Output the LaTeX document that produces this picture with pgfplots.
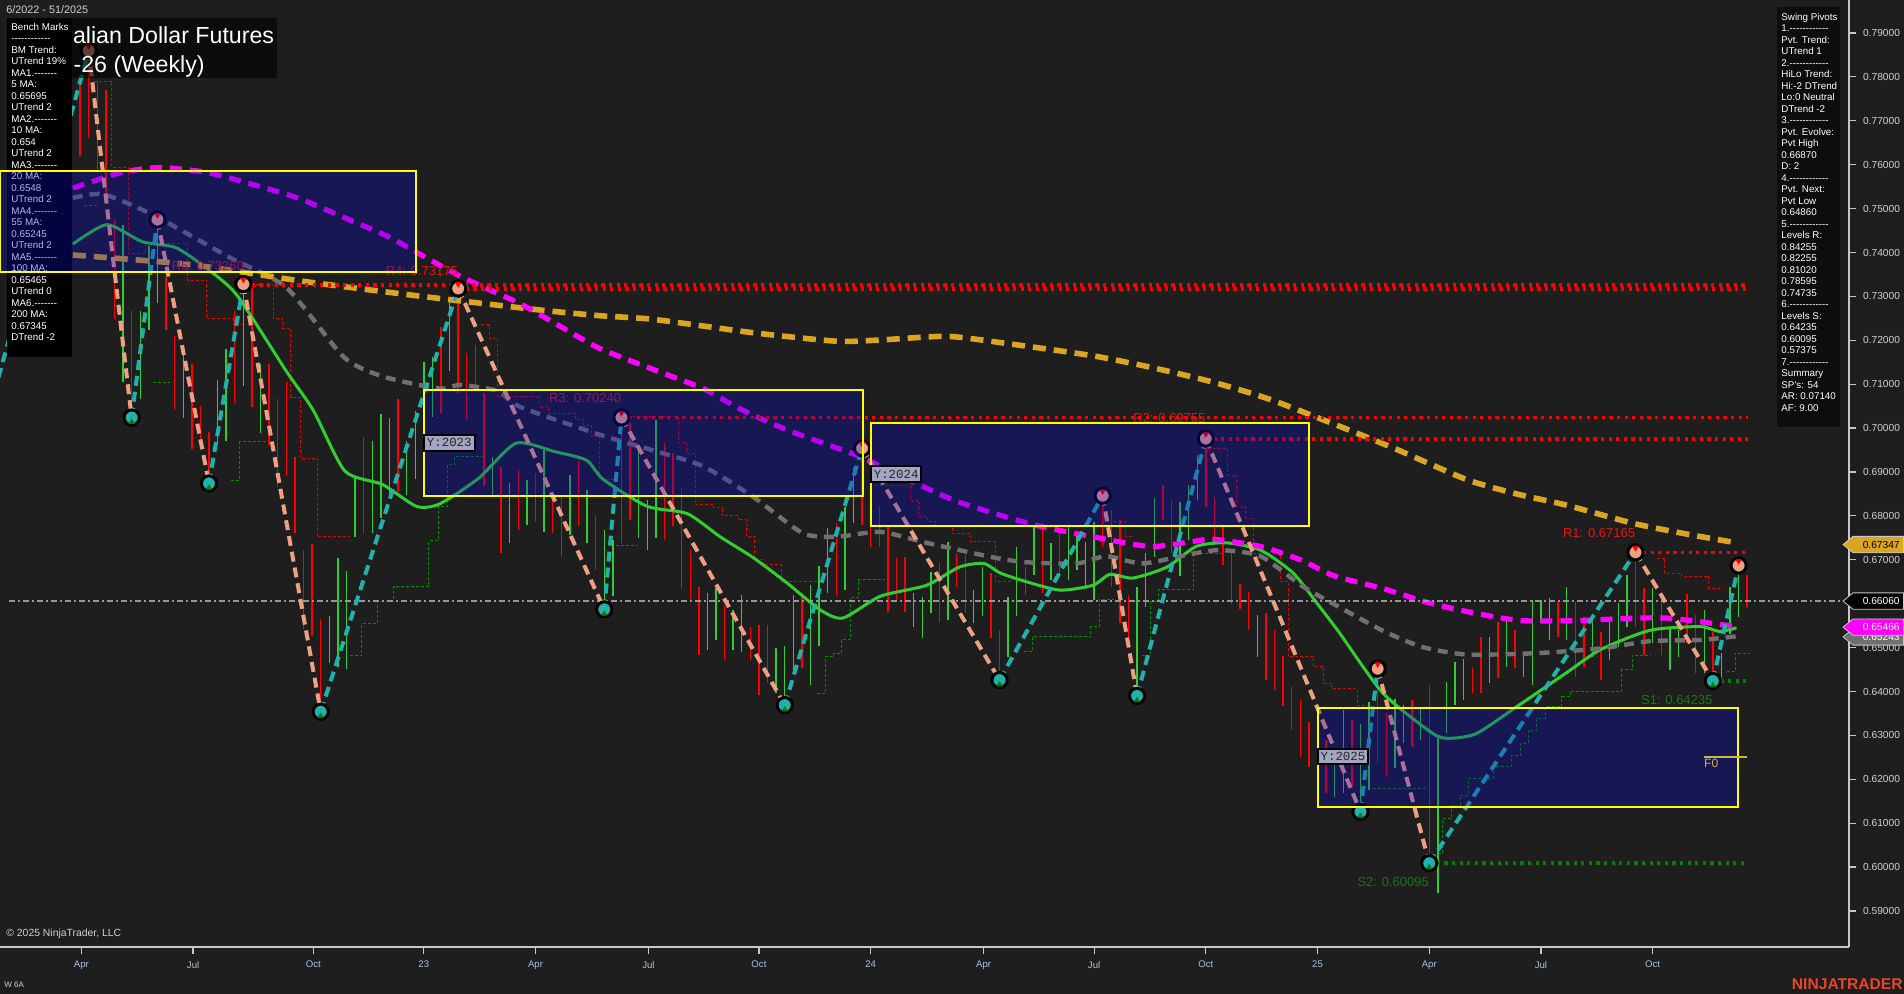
\documentclass[border=0pt]{standalone}
\usepackage{pgfplots}
\pgfplotsset{compat=1.18}
\usepackage{pgfplotstable}
\usepackage{fontspec}
\setmainfont{Liberation Sans}[Ligatures=TeXOff]
\setmonofont{Liberation Mono}
\definecolor{bg}{RGB}{30,30,30}
\definecolor{upg}{RGB}{50,205,50}
\definecolor{dnr}{RGB}{255,0,0}
\definecolor{stepred}{RGB}{225,0,0}
\definecolor{stepgreen}{RGB}{0,140,0}
\definecolor{magma}{RGB}{255,0,255}
\definecolor{goldma}{RGB}{218,165,32}
\definecolor{ma55}{RGB}{112,112,112}
\definecolor{ma20}{RGB}{50,205,50}
\definecolor{salm}{RGB}{240,160,130}
\definecolor{tealz}{RGB}{32,178,170}
\definecolor{navyfill}{RGB}{10,10,210}
\definecolor{yel}{RGB}{255,255,0}
\definecolor{axgray}{RGB}{200,200,200}
\definecolor{ticklab}{RGB}{205,210,215}
\definecolor{xlab}{RGB}{170,195,230}
\definecolor{resred}{RGB}{230,20,20}
\definecolor{supgreen}{RGB}{20,120,20}
\definecolor{supdot}{RGB}{0,128,0}
\definecolor{ninja}{RGB}{230,70,40}
\definecolor{ylabfill}{RGB}{165,165,195}
\definecolor{f0col}{RGB}{200,185,60}
\definecolor{pricegray}{RGB}{150,150,150}
\newcommand{\TL}[2]{([xshift=#1,yshift=#2]rel axis cs:0,1)}
\newcommand{\TR}[2]{([xshift=#1,yshift=#2]rel axis cs:1,1)}
\newcommand{\BL}[2]{([xshift=#1,yshift=#2]rel axis cs:0,0)}
\newcommand{\BR}[2]{([xshift=#1,yshift=#2]rel axis cs:1,0)}
\newcommand{\tagfont}{\fontsize{5.1}{6}\selectfont}
\newcommand{\pricetag}[4]{%
  \filldraw[fill=#2, draw=#4, line width=0.4pt] ([xshift=-3pt]axis cs:165.85,#1) -- ++(5pt,4.1pt) -- ++(25.3pt,0pt) -- ++(0pt,-8.2pt) -- ++(-25.3pt,0pt) -- cycle;
  \node[anchor=east, inner sep=0pt, text=#3, font=\tagfont] at ([xshift=25.5pt]axis cs:165.85,#1) {#1};}

\pgfplotstableread{
w lo hi
-41 0.748 0.772
-35 0.7105 0.7463
-33 0.7066 0.7267
-32 0.7223 0.7415
-31 0.7284 0.7475
-28 0.7023 0.7188
-24 0.6961 0.7110
-23 0.6970 0.7180
-21 0.7097 0.7328
-19 0.6988 0.7145
-11 0.6465 0.6573
-10 0.6456 0.6704
-9 0.6452 0.6674
-8 0.6752 0.6892
-6 0.6761 0.6970
-5 0.6796 0.7031
-4 0.6848 0.7023
-2 0.6848 0.6970
-1 0.6883 0.7040
0 0.6950 0.7150
1 0.7026 0.7163
3 0.7129 0.7292
8 0.6844 0.6935
10 0.6738 0.6874
12 0.6780 0.6882
14 0.6764 0.6950
17 0.6757 0.6893
19 0.6738 0.6859
21 0.6587 0.6768
22 0.6617 0.6746
25 0.6750 0.6960
26 0.6723 0.6837
27 0.6749 0.7019
33 0.6495 0.6624
34 0.6518 0.6635
36 0.6495 0.6586
37 0.6491 0.6620
41 0.6396 0.6499
42 0.6369 0.6503
43 0.6442 0.6620
45 0.6415 0.6643
46 0.6503 0.6685
47 0.6624 0.6772
49 0.6632 0.6821
50 0.6783 0.6912
57 0.6548 0.6624
58 0.6521 0.6616
59 0.6578 0.6673
61 0.6563 0.6741
64 0.6555 0.6631
65 0.6571 0.6684
68 0.6479 0.6616
69 0.6571 0.6730
71 0.6665 0.6779
73 0.6654 0.6738
75 0.6654 0.6776
76 0.6677 0.6764
77 0.6639 0.6741
78 0.6608 0.6787
83 0.6390 0.6639
84 0.6593 0.6715
85 0.6707 0.6840
88 0.6662 0.6832
89 0.6745 0.6870
90 0.6836 0.6939
97 0.6479 0.6574
104 0.6210 0.6330
106 0.6160 0.6259
107 0.6168 0.6358
109 0.6126 0.6327
110 0.6176 0.6377
113 0.6225 0.6384
114 0.6282 0.6369
116 0.6290 0.6362
118 0.5940 0.6293
119 0.6305 0.6422
120 0.6369 0.6468
121 0.6381 0.6475
124 0.6419 0.6525
126 0.6456 0.6563
128 0.6434 0.6483
129 0.6415 0.6608
130 0.6555 0.6608
131 0.6517 0.6612
133 0.6517 0.6639
136 0.6479 0.6563
138 0.6472 0.6563
139 0.6502 0.6601
140 0.6548 0.6665
143 0.6510 0.6635
145 0.6449 0.6544
146 0.6479 0.6540
149 0.6441 0.6586
151 0.6426 0.6488
152 0.6532 0.6639
153 0.6570 0.6687
}\upbars

\pgfplotstableread{
w lo hi
-40 0.762 0.780
-39 0.766 0.786
-38 0.758 0.779
-37 0.752 0.777
-36 0.7249 0.7476
-34 0.7024 0.7267
-30 0.7223 0.7345
-29 0.7044 0.7210
-27 0.6953 0.7145
-26 0.6953 0.7050
-25 0.6874 0.6990
-22 0.7058 0.7267
-20 0.7049 0.7319
-18 0.6961 0.7145
-17 0.6866 0.7066
-16 0.6892 0.7105
-15 0.6761 0.6935
-14 0.6543 0.6722
-13 0.6526 0.6735
-12 0.6354 0.6565
-7 0.6761 0.6979
-3 0.6857 0.7066
2 0.7034 0.7231
4 0.7079 0.7318
5 0.7019 0.7170
6 0.7087 0.7189
7 0.6867 0.7079
9 0.6715 0.6912
11 0.6768 0.6905
13 0.6787 0.6897
15 0.6761 0.6852
16 0.6708 0.6844
18 0.6776 0.6924
20 0.6677 0.6799
23 0.6738 0.7024
24 0.6791 0.7011
28 0.6745 0.6969
29 0.6776 0.6943
30 0.6635 0.6863
31 0.6605 0.6723
32 0.6484 0.6639
35 0.6472 0.6594
38 0.6472 0.6548
39 0.6392 0.6552
40 0.6419 0.6552
44 0.6453 0.6624
48 0.6617 0.6783
51 0.6780 0.6954
52 0.6726 0.6821
53 0.6730 0.6821
54 0.6582 0.6779
55 0.6608 0.6703
56 0.6582 0.6707
60 0.6559 0.6692
62 0.6639 0.6715
63 0.6578 0.6711
66 0.6521 0.6669
67 0.6426 0.6540
70 0.6620 0.6684
72 0.6624 0.6783
74 0.6662 0.6764
79 0.6730 0.6846
80 0.6639 0.6813
81 0.6555 0.6791
82 0.6500 0.6620
86 0.6791 0.6870
87 0.6715 0.6836
91 0.6821 0.6976
92 0.6745 0.6844
93 0.6688 0.6776
94 0.6600 0.6720
95 0.6589 0.6646
96 0.6540 0.6627
98 0.6426 0.6578
99 0.6404 0.6540
100 0.6366 0.6480
101 0.6312 0.6411
102 0.6250 0.6380
103 0.6229 0.6330
105 0.6168 0.6290
108 0.6183 0.6335
111 0.6236 0.6452
112 0.6206 0.6350
115 0.6274 0.6381
117 0.6009 0.6415
122 0.6396 0.6456
123 0.6396 0.6525
125 0.6430 0.6559
127 0.6453 0.6540
132 0.6525 0.6604
134 0.6434 0.6604
135 0.6456 0.6570
137 0.6426 0.6536
141 0.6548 0.6717
142 0.6483 0.6635
144 0.6483 0.6608
147 0.6510 0.6623
148 0.6441 0.6574
150 0.6424 0.6536
154 0.6593 0.6665
}\downbars

\begin{document}
\begin{tikzpicture}
\fill[bg] (0pt,-23.5pt) rectangle (952pt,473.5pt);
\begin{axis}[
  at={(0pt,0pt)}, anchor=south west,
  scale only axis, width=924.5pt, height=473.5pt,
  xmin=-49.32, xmax=165.85, ymin=0.5818, ymax=0.79752,
  clip mode=individual,
  axis x line*=bottom, axis y line*=right,
  axis line style={-, draw=axgray, line width=0.75pt},
  tick align=outside, major tick length=3.5pt,
  tick style={draw=axgray, line width=0.6pt},
  /pgf/number format/assume math mode=true,
  ytick={0.59,0.60,0.61,0.62,0.63,0.64,0.65,0.66,0.67,0.68,0.69,0.70,0.71,0.72,0.73,0.74,0.75,0.76,0.77,0.78,0.79},
  yticklabel={\pgfmathprintnumber[fixed,fixed zerofill,precision=5]{\tick}},
  yticklabel style={font=\fontsize{5.1}{6}\selectfont, text=ticklab},
  xtick={-39.85,-26.85,-12.86,0,13,26.14,39,52,65.14,78,91,104,117,130,143},
  xticklabels={Apr,Jul,Oct,23,Apr,Jul,Oct,24,Apr,Jul,Oct,25,Apr,Jul,Oct},
  xticklabel style={font=\fontsize{4.8}{6}\selectfont, text=xlab},
  unbounded coords=jump,
]
% trailing step lines
\addplot[stepred, line width=0.5pt, dash pattern=on 1.5pt off 1pt, const plot, forget plot] coordinates {
(-38.4,0.7790) (-36.3,0.7594) (-34.4,0.7398) (-32.4,0.7420) (-27.5,0.7337) (-25.3,0.7249) (-22.2,0.7236) (-21.0,0.7328) (-17.5,0.7249) (-16.4,0.7228) (-15.5,0.7070) (-14.4,0.6931) (-12.4,0.6752) (-8.6,0.6752) (-8.6,nan)
(6.7,0.7235) (7.6,0.7205) (8.6,0.7072) (13.5,0.7050) (14.5,0.7033) (17.6,0.7019) (18.6,0.7007) (19.5,0.6981) (20.5,0.6882) (22.1,0.6882) (22.1,nan)
(23.2,0.7026) (29.6,0.6967) (30.6,0.6943) (31.6,0.6825) (33.7,0.6818) (34.7,0.6802) (36.6,0.6791) (37.6,0.6753) (38.5,0.6700) (39.5,0.6689) (41.6,0.6651) (45.9,0.6651) (45.9,nan)
(52.5,0.6870) (56.6,0.6836) (57.6,0.6798) (58.6,0.6787) (59.6,0.6779) (61.5,0.6760) (63.6,0.6741) (66.5,0.6650) (68.5,0.6650) (68.5,nan)
(80.3,0.6787) (81.7,0.6753) (82.6,0.6753) (82.6,nan)
(91.3,0.6954) (93.5,0.6893) (94.6,0.6821) (95.6,0.6795) (96.6,0.6715) (99.7,0.6650) (100.6,0.6479) (103.5,0.6456) (104.7,0.6419) (105.6,0.6407) (108.6,0.6369) (110.0,0.6369) (110.0,nan)
(143.5,0.6704) (144.4,0.6669) (146.4,0.6662) (149.5,0.6635) (151.2,0.6635)
};
\addplot[stepgreen, line width=0.5pt, dash pattern=on 1.5pt off 1pt, const plot, forget plot] coordinates {
(-39.5,0.7507) (-38.0,0.7507) (-38.0,nan)
(-31.5,0.7104) (-29.5,0.7104) (-29.5,nan)
(-22.4,0.6881) (-21.4,0.6969) (-18.1,0.6969) (-18.1,nan)
(-8.6,0.6482) (-7.2,0.6554) (-5.4,0.6604) (-3.5,0.6639) (0.6,0.6744) (1.7,0.6821) (2.7,0.6918) (3.6,0.6935) (6.9,0.6950) (7.5,0.6950) (7.5,nan)
(22.4,0.6732) (24.8,0.6732) (24.8,nan)
(45.7,0.6396) (46.7,0.6480) (47.7,0.6487) (48.6,0.6518) (49.6,0.6613) (50.6,0.6654) (53.7,0.6654) (53.7,nan)
(69.8,0.6491) (70.8,0.6525) (77.6,0.6548) (78.6,0.6609) (80.3,0.6609) (80.3,nan)
(83.6,0.6483) (84.6,0.6605) (85.5,0.6632) (89.6,0.6715) (92.9,0.6715) (92.9,nan)
(110.5,0.6179) (116.9,0.6179) (116.9,nan)
(118.0,0.6032) (118.6,0.6111) (119.6,0.6141) (120.6,0.6164) (121.6,0.6202) (124.5,0.6229) (126.6,0.6255) (127.6,0.6282) (128.5,0.6312) (129.5,0.6339) (130.5,0.6365) (132.4,0.6388) (133.4,0.6400) (139.4,0.6449) (140.6,0.6483) (142.7,0.6483) (142.7,nan)
(151.6,0.6445) (152.6,0.6487) (154.3,0.6487)
};
% weekly bars (high-low)
\addplot[draw=none, no markers, forget plot,
  error bars/.cd, y dir=plus, y explicit, error mark=none,
  error bar style={draw=upg, line width=0.7pt, solid}]
  table[x=w, y=lo, y error plus expr=\thisrow{hi}-\thisrow{lo}] {\upbars};
\addplot[draw=none, no markers, forget plot,
  error bars/.cd, y dir=plus, y explicit, error mark=none,
  error bar style={draw=dnr, line width=0.7pt, solid}]
  table[x=w, y=lo, y error plus expr=\thisrow{hi}-\thisrow{lo}] {\downbars};
% moving averages
\addplot[ma20, line width=1.5pt, smooth, tension=0.4] coordinates {
(-40.84,0.74192) (-36.88,0.74635) (-32.78,0.74247) (-28.83,0.74109) (-25.29,0.73639) (-21.76,0.7303) (-15.97,0.71288) (-12.86,0.70403) (-9.18,0.6902) (-4.80,0.68715) (-0.85,0.68217) (1.84,0.68273) (6.36,0.68854) (10.74,0.69656) (15.26,0.69462) (18.93,0.69269) (20.91,0.68826) (26.00,0.68217) (30.66,0.68051) (34.48,0.67525) (38.29,0.67055) (42.25,0.66475) (46.07,0.65866) (48.75,0.65672) (53.13,0.6617) (58.50,0.66419) (62.31,0.66834) (65.14,0.66917) (67.12,0.66696) (70.09,0.66502) (74.04,0.66309) (77.86,0.66419) (79.84,0.66668) (82.52,0.66585) (86.48,0.66834) (89.87,0.67304) (93.40,0.67387) (97.36,0.67221) (101.17,0.66696) (104.28,0.65921) (106.54,0.6534) (111.63,0.63957) (117.42,0.63044) (119.40,0.62934) (122.51,0.63044) (127.17,0.63652) (132.97,0.64427) (136.92,0.64953) (142.72,0.65395) (148.51,0.65478) (150.77,0.65368) (152.75,0.65451)
};
\addplot[ma55, line width=2.2pt, dash pattern=on 5pt off 3.5pt, smooth, tension=0.4] coordinates {
(-40.84,0.75243) (-37.30,0.75326) (-31.51,0.74856) (-22.61,0.73888) (-15.97,0.73196) (-9.33,0.7162) (-4.80,0.71177) (1.84,0.709) (4.24,0.70983) (8.62,0.70845) (11.16,0.70486) (20.49,0.69849) (26.71,0.6949) (32.50,0.6913) (38.29,0.68439) (44.09,0.67608) (48.04,0.67525) (53.13,0.67636) (58.50,0.67387) (66.27,0.67055) (70.09,0.66945) (76.02,0.66917) (79.41,0.67083) (83.65,0.66917) (89.45,0.67138) (92.69,0.67221) (97.36,0.67083) (102.30,0.66392) (106.54,0.65921) (111.77,0.65368) (116.29,0.65008) (121.38,0.64842) (129.15,0.6487) (136.92,0.64981) (142.72,0.65147) (148.51,0.65174) (152.75,0.65257)
};
\addplot[goldma, line width=2.8pt, dash pattern=on 6.5pt off 4pt, smooth, tension=0.4] coordinates {
(-40.84,0.73943) (-27.13,0.73722) (-13.71,0.73335) (-0.28,0.73002) (13.14,0.72698) (20.49,0.7256) (26.71,0.72477) (38.29,0.72173) (48.04,0.71979) (53.13,0.72007) (60.90,0.7209) (67.97,0.71924) (77.86,0.71647) (84.92,0.71371) (91.99,0.71039) (98.49,0.70652) (106.54,0.70043) (113.18,0.69517) (121.38,0.68826) (127.31,0.68494) (132.97,0.68245) (140.74,0.6783) (147.10,0.67581) (152.75,0.67387)
};
\addplot[magma, line width=2.6pt, dash pattern=on 6pt off 4pt, smooth, tension=0.4] coordinates {
(-40.84,0.75465) (-35.18,0.75825) (-30.66,0.75935) (-25.29,0.75825) (-20.35,0.75575) (-14.70,0.75243) (-9.33,0.74801) (-4.10,0.74358) (-0.28,0.73943) (4.38,0.73445) (11.16,0.72837) (15.68,0.72339) (20.49,0.71813) (26.99,0.71315) (32.50,0.709) (36.88,0.7043) (42.25,0.6996) (50.73,0.69352) (56.66,0.68798) (62.46,0.683) (70.93,0.67802) (77.86,0.67525) (84.50,0.67304) (89.45,0.67415) (91.85,0.6747) (97.36,0.67304) (102.02,0.67) (105.84,0.66641) (111.77,0.66336) (116.72,0.66032) (121.66,0.6581) (127.60,0.65617) (134.38,0.65617) (140.74,0.65672) (144.69,0.65672) (148.51,0.65589) (152.75,0.65478)
};
% last price line
\addplot[pricegray, line width=0.6pt, dash pattern=on 3pt off 1.5pt on 1pt off 1.5pt] coordinates {(-48.3,0.6606) (165.85,0.6606)};
% swing zigzag
\addplot[tealz, line width=2pt, dash pattern=on 5pt off 3pt] coordinates {
(-50,0.708) (-39,0.786) (-39,nan) (-34,0.7024) (-31,0.7475) (-31,nan) (-25,0.6874) (-21,0.7328) (-21,nan) (-12,0.6354) (4,0.7318) (4,nan) (21,0.6587) (23,0.7024) (23,nan) (42,0.6369) (51,0.6954) (51,nan) (67,0.6426) (79,0.6846) (79,nan) (83,0.6390) (91,0.6976) (91,nan) (109,0.6126) (111,0.6452) (111,nan) (117,0.6009) (141,0.6717) (141,nan) (150,0.6424) (153,0.6687)
};
\addplot[salm, line width=2pt, dash pattern=on 5pt off 3pt] coordinates {
(-39,0.786) (-34,0.7024) (-34,nan) (-31,0.7475) (-25,0.6874) (-25,nan) (-21,0.7328) (-12,0.6354) (-12,nan) (4,0.7318) (21,0.6587) (21,nan) (23,0.7024) (42,0.6369) (42,nan) (51,0.6954) (67,0.6426) (67,nan) (79,0.6846) (83,0.6390) (83,nan) (91,0.6976) (109,0.6126) (109,nan) (111,0.6452) (117,0.6009) (117,nan) (141,0.6717) (150,0.6424)
};
% resistance / support levels
\addplot[dnr, line width=1.8pt, dash pattern=on 1.6pt off 2.2pt] coordinates {(-20.9,0.7326) (154.1,0.7326)};
\addplot[dnr, line width=1.8pt, dash pattern=on 1.6pt off 2.2pt] coordinates {(4,0.73175) (154.1,0.73175)};
\addplot[dnr, line width=1.8pt, dash pattern=on 1.6pt off 2.2pt] coordinates {(23,0.7024) (154.1,0.7024)};
\addplot[dnr, line width=1.8pt, dash pattern=on 1.6pt off 2.2pt] coordinates {(91,0.69755) (154.1,0.69755)};
\addplot[dnr, line width=1.8pt, dash pattern=on 1.6pt off 2.2pt] coordinates {(141,0.67165) (154.1,0.67165)};
\addplot[supdot, line width=1.8pt, dash pattern=on 1.6pt off 2.2pt] coordinates {(150,0.64235) (154.1,0.64235)};
\addplot[supdot, line width=1.8pt, dash pattern=on 1.6pt off 2.2pt] coordinates {(117,0.60095) (153.6,0.60095)};
% pivots
\addplot[only marks, mark=*, mark size=3.8pt, mark options={fill=salm, draw=black, line width=1.5pt}] coordinates {
(-39,0.786) (-31,0.7475) (-21,0.7328) (4,0.7318) (23,0.7024) (51,0.6954) (79,0.6846) (91,0.6976) (111,0.6452) (141,0.6717) (153,0.6687)};
\addplot[only marks, mark=*, mark size=3.8pt, mark options={fill=tealz, draw=black, line width=1.5pt}] coordinates {
(-34,0.7024) (-25,0.6874) (-12,0.6354) (21,0.6587) (42,0.6369) (67,0.6426) (83,0.6390) (109,0.6126) (117,0.6009) (150,0.6424)};
\addplot[only marks, mark=triangle*, mark size=1.4pt, mark options={rotate=180, fill=dnr, draw=dnr}] coordinates {
(-39,0.7870) (-31,0.7485) (-21,0.7338) (4,0.7328) (23,0.7034) (51,0.6964) (79,0.6856) (91,0.6986) (111,0.6462) (141,0.6727) (153,0.6697)};
\addplot[only marks, mark=triangle*, mark size=1.4pt, mark options={fill=supdot, draw=supdot}] coordinates {
(-34,0.7014) (-25,0.6864) (-12,0.6344) (21,0.6577) (42,0.6359) (67,0.6416) (83,0.6380) (109,0.6116) (117,0.5999) (150,0.6414)};
% level labels
\node[anchor=south east, inner sep=0pt, text=resred, font=\fontsize{6.5}{7}\selectfont, yshift=7pt] at (axis cs:-20.9,0.7326) {R5: 0.73260};
\node[anchor=south east, inner sep=0pt, text=resred, font=\fontsize{6.5}{7}\selectfont, yshift=6.5pt] at (axis cs:4,0.73175) {R4: 0.73175};
\node[anchor=south east, inner sep=0pt, text=resred, font=\fontsize{6.5}{7}\selectfont, yshift=7.5pt] at (axis cs:23,0.7024) {R3: 0.70240};
\node[anchor=south east, inner sep=0pt, text=resred, font=\fontsize{6.5}{7}\selectfont, yshift=8pt] at (axis cs:91,0.69755) {R2: 0.69755};
\node[anchor=south east, inner sep=0pt, text=resred, font=\fontsize{6.5}{7}\selectfont, yshift=7.5pt] at (axis cs:141,0.67165) {R1: 0.67165};
\node[anchor=north east, inner sep=0pt, text=supgreen, font=\fontsize{6.5}{7}\selectfont, yshift=-7pt] at (axis cs:150,0.64235) {S1: 0.64235};
\node[anchor=north east, inner sep=0pt, text=supgreen, font=\fontsize{6.5}{7}\selectfont, yshift=-7pt] at (axis cs:117,0.60095) {S2: 0.60095};
% title block
\fill[black, opacity=0.6] \TL{9pt}{-9pt} rectangle \TL{138.5pt}{-39pt};
\node[anchor=base west, inner sep=0pt, text=white, font=\fontsize{11.6}{13}\selectfont] at \TL{36.3pt}{-22pt} {alian Dollar Futures};
\node[anchor=base west, inner sep=0pt, text=white, font=\fontsize{11.6}{13}\selectfont] at \TL{36.6pt}{-36.3pt} {-26 (Weekly)};
\node[anchor=west, inner sep=0pt, text=ticklab, font=\fontsize{5.4}{6}\selectfont] at \TL{3pt}{-5pt} {6/2022 - 51/2025};
% bench marks panel
\fill[black] \TL{3.5pt}{-9pt} rectangle \TL{36pt}{-178.5pt};
\node[anchor=north west, inner sep=0pt, align=left, text=white, font=\fontsize{4.9}{5.75}\selectfont] at \TL{5.5pt}{-11.5pt} {Bench Marks\\------------\\BM Trend:\\UTrend 19\%\\MA1.-------\\5 MA:\\0.65695\\UTrend 2\\MA2.-------\\10 MA:\\0.654\\UTrend 2\\MA3.-------\\20 MA:\\0.6548\\UTrend 2\\MA4.-------\\55 MA:\\0.65245\\UTrend 2\\MA5.-------\\100 MA:\\0.65465\\UTrend 0\\MA6.-------\\200 MA:\\0.67345\\DTrend -2};
% yearly range boxes
\fill[navyfill, opacity=0.3] (axis cs:-49.32,0.73556) rectangle (axis cs:-0.9,0.75857);
\draw[yel, line width=1pt] (axis cs:-49.32,0.73556) rectangle (axis cs:-0.9,0.75857);
\fill[navyfill, opacity=0.3] (axis cs:0.06,0.68453) rectangle (axis cs:51.15,0.70868);
\draw[yel, line width=1pt] (axis cs:0.06,0.68453) rectangle (axis cs:51.15,0.70868);
\fill[navyfill, opacity=0.3] (axis cs:52.0,0.6777) rectangle (axis cs:103.0,0.70116);
\draw[yel, line width=1pt] (axis cs:52.0,0.6777) rectangle (axis cs:103.0,0.70116);
\fill[navyfill, opacity=0.3] (axis cs:104.0,0.61369) rectangle (axis cs:152.9,0.63624);
\draw[yel, line width=1pt] (axis cs:104.0,0.61369) rectangle (axis cs:152.9,0.63624);
\node[anchor=west, draw=black, line width=1pt, fill=ylabfill, text=black!85, inner xsep=1.5pt, inner ysep=1.8pt, font=\ttfamily\fontsize{6.2}{7}\selectfont] at (axis cs:-0.1,0.69667) {Y:2023};
\node[anchor=west, draw=black, line width=1pt, fill=ylabfill, text=black!85, inner xsep=1.5pt, inner ysep=1.8pt, font=\ttfamily\fontsize{6.2}{7}\selectfont] at (axis cs:51.9,0.68954) {Y:2024};
\node[anchor=west, draw=black, line width=1pt, fill=ylabfill, text=black!85, inner xsep=1.5pt, inner ysep=1.8pt, font=\ttfamily\fontsize{6.2}{7}\selectfont] at (axis cs:103.9,0.62519) {Y:2025};
\draw[f0col, line width=0.8pt] (axis cs:148.95,0.6251) -- (axis cs:153.97,0.6251);
\node[anchor=north west, inner sep=0pt, text=f0col, font=\fontsize{6}{7}\selectfont, yshift=-1pt] at (axis cs:148.95,0.6251) {F0};
% swing pivots panel
\fill[black!95!white] \TR{-36pt}{-3.5pt} rectangle \TR{-4.5pt}{-213.5pt};
\node[anchor=north west, inner sep=0pt, align=left, text=white, font=\fontsize{4.9}{5.75}\selectfont] at \TR{-34pt}{-6.3pt} {Swing Pivots\\1.------------\\Pvt. Trend:\\UTrend 1\\2.------------\\HiLo Trend:\\Hi:-2 DTrend\\Lo:0 Neutral\\DTrend -2\\3.------------\\Pvt. Evolve:\\Pvt High\\0.66870\\D: 2\\4.------------\\Pvt. Next:\\Pvt Low\\0.64860\\5.------------\\Levels R:\\0.84255\\0.82255\\0.81020\\0.78595\\0.74735\\6.------------\\Levels S:\\0.64235\\0.60095\\0.57375\\7.------------\\Summary\\SP's: 54\\AR: 0.07140\\AF: 9.00};
% price tags
\pricetag{0.67347}{goldma}{black}{axgray}
\pricetag{0.66060}{black}{white}{axgray}
\pricetag{0.65243}{ma55}{white}{axgray}
\pricetag{0.65466}{magma}{white}{axgray}
% footer texts
\node[anchor=west, inner sep=0pt, text=ticklab, font=\fontsize{5.2}{6}\selectfont] at \BL{3pt}{6.5pt} {\textcopyright{} 2025 NinjaTrader, LLC};
\node[anchor=west, inner sep=0pt, text=ticklab, font=\fontsize{4}{5}\selectfont] at \BL{2pt}{-19pt} {W 6A};
\node[anchor=east, inner sep=0pt, text=ninja, font=\bfseries\fontsize{7.8}{9}\selectfont] at \BR{27pt}{-18.5pt} {NINJATRADER};
\end{axis}
\pgfresetboundingbox
\useasboundingbox (0pt,-23.5pt) rectangle (952pt,473.5pt);
\end{tikzpicture}
\end{document}
